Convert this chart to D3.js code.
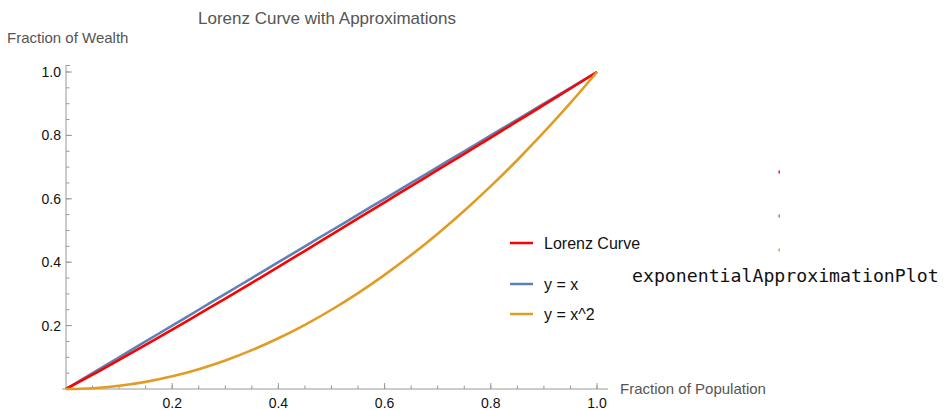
<!DOCTYPE html>
<html><head><meta charset="utf-8">
<script src="https://cdn.jsdelivr.net/npm/d3@7"></script>
<style>body{margin:0;background:#fff;} svg{display:block;}</style>
</head><body>
<svg id="chart" width="948" height="410"></svg>
<script>
const xs = [0,0.05,0.1,0.15,0.2,0.25,0.3,0.35,0.4,0.45,0.5,0.55,0.6,0.65,0.7,0.75,0.8,0.85,0.9,0.95,1.0];
const lorenz = [0,0.045,0.092,0.139,0.187,0.236,0.285,0.335,0.385,0.436,0.487,0.538,0.589,0.640,0.691,0.742,0.793,0.845,0.896,0.948,1.0];
const linear = [0,0.05,0.1,0.15,0.2,0.25,0.3,0.35,0.4,0.45,0.5,0.55,0.6,0.65,0.7,0.75,0.8,0.85,0.9,0.95,1.0];
const square = [0,0.0025,0.01,0.0225,0.04,0.0625,0.09,0.1225,0.16,0.2025,0.25,0.3025,0.36,0.4225,0.49,0.5625,0.64,0.7225,0.81,0.9025,1.0];
const seriesNames = ["Lorenz Curve","y = x","y = x^2"];
const seriesColors = ["#ff0000","#5e81b5","#e19c24"];
const majorTicks = [0.2,0.4,0.6,0.8,1.0];
const minorTicks = d3.range(0.05,1.0001,0.05);

const svg = d3.select("#chart");
const x = d3.scaleLinear().domain([0,1]).range([66,597]);
const y = d3.scaleLinear().domain([0,1]).range([389,72]);
const axisColor = "#999";
const font = "'Liberation Sans', Arial, sans-serif";

// axes lines
svg.append("line").attr("x1",62).attr("x2",608).attr("y1",y(0)).attr("y2",y(0)).attr("stroke",axisColor).attr("stroke-width",1);
svg.append("line").attr("x1",x(0)).attr("x2",x(0)).attr("y1",65).attr("y2",y(0)).attr("stroke",axisColor).attr("stroke-width",1);
svg.append("line").attr("x1",x(0)).attr("x2",x(0)+4).attr("y1",65.5).attr("y2",65.5).attr("stroke",axisColor);

// x ticks
svg.selectAll(".xmin").data(minorTicks).enter().append("line")
  .attr("x1",d=>x(d)).attr("x2",d=>x(d)).attr("y1",y(0)).attr("y2",y(0)-3.5).attr("stroke",axisColor);
svg.selectAll(".xmaj").data(majorTicks).enter().append("line")
  .attr("x1",d=>x(d)).attr("x2",d=>x(d)).attr("y1",y(0)).attr("y2",y(0)-6).attr("stroke",axisColor);
svg.selectAll(".xlab").data(majorTicks).enter().append("text")
  .attr("x",d=>x(d)).attr("y",407.5).attr("text-anchor","middle").attr("font-family",font).attr("font-size",14).attr("fill","#111")
  .text(d=>d3.format(".1f")(d));
// y ticks
svg.selectAll(".ymin").data(minorTicks).enter().append("line")
  .attr("y1",d=>y(d)).attr("y2",d=>y(d)).attr("x1",x(0)).attr("x2",x(0)+3.5).attr("stroke",axisColor);
svg.selectAll(".ymaj").data(majorTicks).enter().append("line")
  .attr("y1",d=>y(d)).attr("y2",d=>y(d)).attr("x1",x(0)).attr("x2",x(0)+6).attr("stroke",axisColor);
svg.selectAll(".ylab").data(majorTicks).enter().append("text")
  .attr("x",61).attr("y",d=>y(d)+5).attr("text-anchor","end").attr("font-family",font).attr("font-size",14).attr("fill","#111")
  .text(d=>d3.format(".1f")(d));

// labels
svg.append("text").attr("x",327).attr("y",24).attr("text-anchor","middle").attr("font-family",font).attr("font-size",17).attr("fill","#555").text("Lorenz Curve with Approximations");
svg.append("text").attr("x",7).attr("y",43).attr("font-family",font).attr("font-size",15).attr("fill","#555").text("Fraction of Wealth");
svg.append("text").attr("x",620).attr("y",394).attr("font-family",font).attr("font-size",15).attr("fill","#555").text("Fraction of Population");

// curves
const allSeries = [lorenz, linear, square];
const line = d3.line().x((d,i)=>x(xs[i])).y(d=>y(d)).curve(d3.curveMonotoneX);
[1,0,2].forEach(k=>{
  svg.append("path").datum(allSeries[k]).attr("d",line).attr("fill","none")
    .attr("stroke",seriesColors[k]).attr("stroke-width",2.6).attr("stroke-linejoin","round");
});

// legend
const legY = [243,284,314];
seriesNames.forEach((n,i)=>{
  svg.append("line").attr("x1",510).attr("x2",533).attr("y1",legY[i]).attr("y2",legY[i]).attr("stroke",seriesColors[i]).attr("stroke-width",2.5);
  svg.append("text").attr("x",544).attr("y",legY[i]+5.5).attr("font-family",font).attr("font-size",16).attr("fill","#111").text(n);
});

// stray marks
const dotY = [172,216,250];
dotY.forEach((yy,i)=>{
  svg.append("rect").attr("x",778.5).attr("y",yy-1.5).attr("width",1.4).attr("height",3).attr("fill",seriesColors[i]);
});
svg.append("text").attr("x",632).attr("y",282).attr("font-family","'DejaVu Sans Mono', monospace").attr("font-size",18.2).attr("fill","#111").text("exponentialApproximationPlot");
</script>
</body></html>
